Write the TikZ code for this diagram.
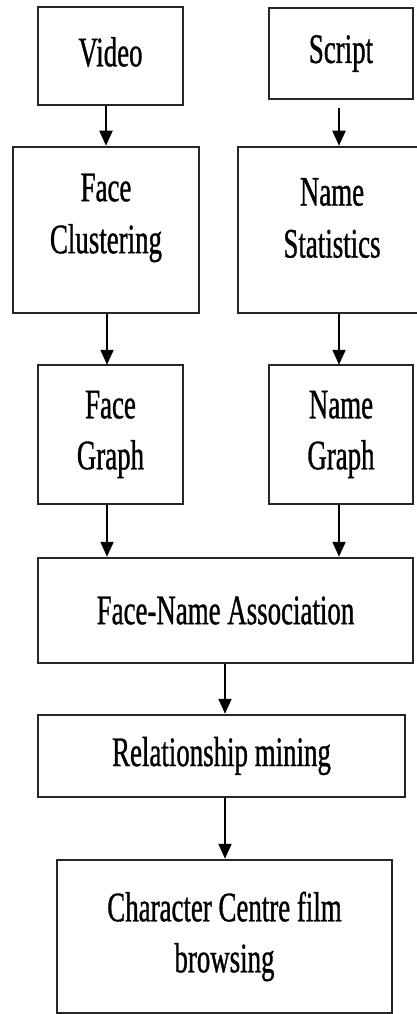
\documentclass[tikz,border=0pt]{standalone}
\usepackage{fontspec}
\setmainfont[FakeStretch=0.64,FakeBold=0.8]{Liberation Serif}
\usetikzlibrary{arrows.meta}
\begin{document}
\begin{tikzpicture}[x=1pt,y=1pt,
  box/.style={draw=black!85, line width=2.5pt, rectangle, inner sep=0pt, font=\fontsize{42}{51}\selectfont, align=center},
  txt/.style={font=\fontsize{42}{52}\selectfont, align=center, inner sep=0pt},
  arr/.style={draw=black, line width=2pt, -{Triangle[width=13pt,length=15pt]}}]
\useasboundingbox (0,0) rectangle (417,-1014);
\clip (0,0) rectangle (417,-1014);
\node[box, minimum width=145, minimum height=98] (video) at (110.5,-56) {};
\node[txt] (videot) at ([yshift=4]video.center) {Video};
\node[box, minimum width=144, minimum height=91] (script) at (341,-53.5) {Script};
\node[box, minimum width=186, minimum height=166] (fc) at (106,-230) {};
\node[txt] (fct) at ([yshift=12]fc.center) {Face\\Clustering};
\node[box, minimum width=188, minimum height=166] (ns) at (332,-230) {};
\node[txt] (nst) at ([yshift=12]ns.center) {Name\\Statistics};
\node[box, minimum width=145, minimum height=139] (fg) at (110.5,-434.5) {Face\\Graph};
\node[box, minimum width=144, minimum height=139] (ng) at (341,-434.5) {Name\\Graph};
\node[box, minimum width=375, minimum height=105] (fna) at (225.5,-610.5) {Face-Name Association};
\node[box, minimum width=367, minimum height=82] (rm) at (221.5,-756) {Relationship mining};
\node[box, minimum width=335, minimum height=153] (cc) at (224.5,-936.5) {Character Centre film\\browsing};
\draw[arr] (video.south -| fc.north) -- (fc.north);
\draw[arr] ([yshift=-8]script.south -| 339,0) -- (ns.north -| 339,0);
\draw[arr] (fc.south -| 107,0) -- ([yshift=-1]fg.north -| 107,0);
\draw[arr] (ns.south -| 339,0) -- ([yshift=-1]ng.north -| 339,0);
\draw[arr] (fg.south -| 107,0) -- (fna.north -| 107,0);
\draw[arr] (ng.south -| 339,0) -- (fna.north -| 339,0);
\draw[arr] (fna.south -| 225,0) -- (rm.north -| 225,0);
\draw[arr] (rm.south -| 225,0) -- (cc.north -| 225,0);
\end{tikzpicture}
\end{document}
